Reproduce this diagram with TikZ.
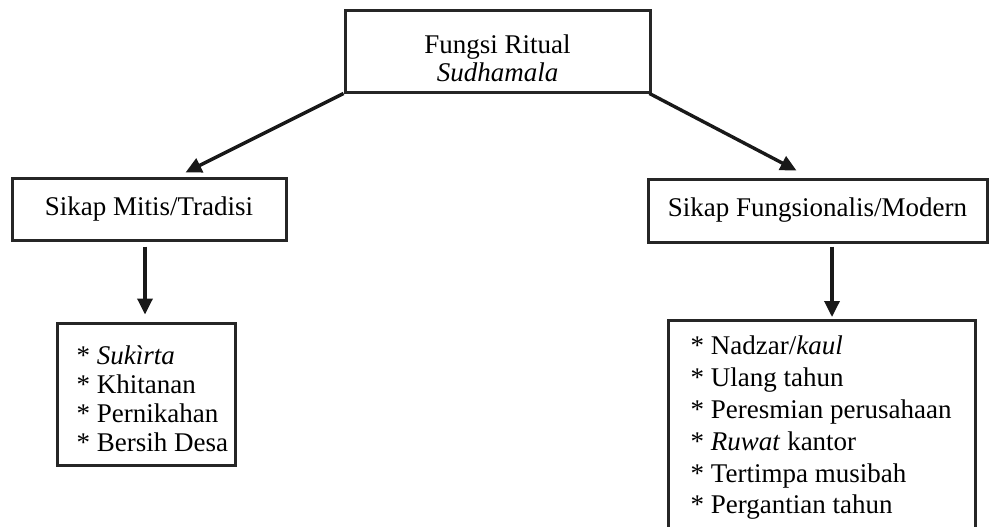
\documentclass[tikz,border=0pt]{standalone}
\usepackage{fontspec}
\setmainfont{Liberation Serif}
\usetikzlibrary{arrows.meta}
\begin{document}
\begin{tikzpicture}[x=1pt,y=-1pt,
  box/.style={draw=black!85, line width=3pt, rectangle, inner sep=0pt},
  arr/.style={draw=black!90, line width=3.4pt, -{Triangle[length=16pt,width=15pt]}},
  txt/.style={font=\fontsize{27}{28}\selectfont, align=center, inner sep=0pt}]
\useasboundingbox (0,0) rectangle (990,527);
\clip (0,0) rectangle (990,527);
\node[box, minimum width=305pt, minimum height=81pt] (top) at (497.5,51.5) {};
\node[txt] (toptxt) at ([yshift=-7pt]top.center) {Fungsi Ritual\\\textit{Sudhamala}};
\node[box, minimum width=274pt, minimum height=62pt] (left) at (149,209) {};
\node[txt] (lefttxt) at (left.center) {Sikap Mitis/Tradisi};
\node[box, minimum width=339pt, minimum height=63pt] (right) at (817.5,210.5) {};
\node[txt] (righttxt) at (right.center) {Sikap Fungsionalis/Modern};
\node[box, minimum width=178pt, minimum height=142pt] (llist) at (146,394) {};
\node[txt, align=left, anchor=west, font=\fontsize{27}{29}\selectfont] (llisttxt) at ([xshift=21pt,yshift=-5pt]llist.west)
  {* \textit{Sukìrta}\\* Khitanan\\* Pernikahan\\* Bersih Desa};
\node[box, anchor=north, minimum width=307pt, minimum height=240pt] (rlist) at (821.5,319) {};
\node[txt, align=left, anchor=north west, font=\fontsize{27}{31.8}\selectfont] (rlisttxt) at ([xshift=24pt,yshift=-17pt]rlist.north west)
  {* Nadzar/\textit{kaul}\\* Ulang tahun\\* Peresmian perusahaan\\* \textit{Ruwat} kantor\\* Tertimpa musibah\\* Pergantian tahun};
\draw[arr] (top.south west) -- ([xshift=175pt,yshift=4pt]left.north west);
\draw[arr] ([xshift=-2pt]top.south east) -- ([xshift=150pt,yshift=7pt]right.north west);
\draw[arr] ([yshift=-5pt]left.south -| 145,0) -- ([yshift=7pt]llist.north -| 145,0);
\draw[arr] ([yshift=-3pt]right.south -| 832,0) -- ([yshift=2pt]rlist.north -| 832,0);
\end{tikzpicture}
\end{document}
